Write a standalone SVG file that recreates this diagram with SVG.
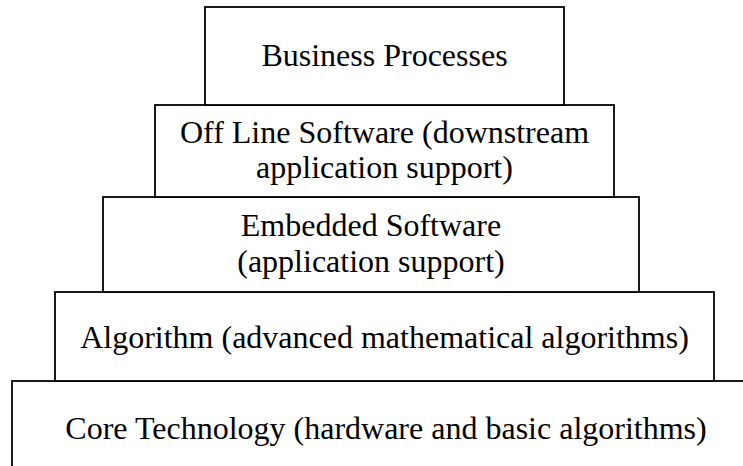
<svg xmlns="http://www.w3.org/2000/svg" width="743" height="466" viewBox="0 0 743 466">
<style>
rect{fill:#fff;stroke:#000;stroke-width:1.8}
text{font-family:'Liberation Serif',serif;font-size:32px;fill:#000;text-anchor:middle}
</style>
<rect x="0" y="0" width="743" height="466" style="stroke:none"/>
<g id="core"><rect x="12" y="381" width="740" height="100"/><text x="386" y="439">Core Technology (hardware and basic algorithms)</text></g>
<g id="algorithm"><rect x="55" y="292" width="659" height="89"/><text x="384.5" y="348">Algorithm (advanced mathematical algorithms)</text></g>
<g id="embedded"><rect x="103" y="197" width="536" height="95"/><text x="371" y="236">Embedded Software</text><text x="371" y="272">(application support)</text></g>
<g id="offline"><rect x="155" y="105" width="459" height="92"/><text x="384.5" y="143">Off Line Software (downstream</text><text x="384.5" y="178">application support)</text></g>
<g id="business"><rect x="205" y="7" width="359" height="98"/><text x="384.5" y="66">Business Processes</text></g>
<g id="connectors"></g>
</svg>
